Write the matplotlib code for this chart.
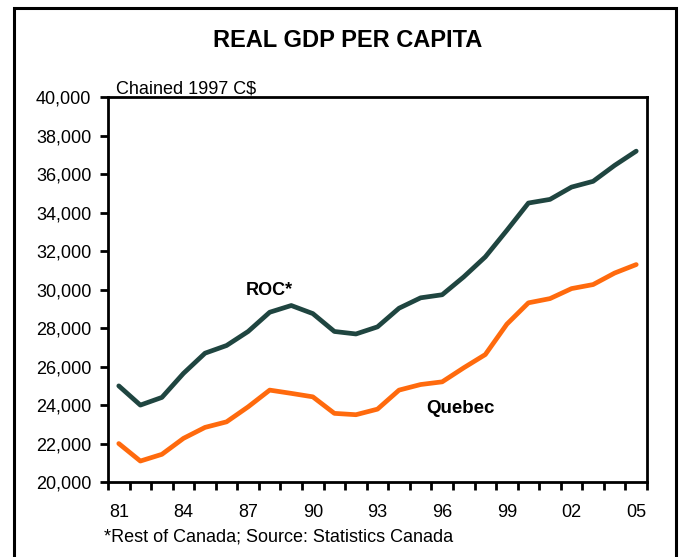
import matplotlib
matplotlib.use("Agg")
import matplotlib.pyplot as plt
from matplotlib.patches import Rectangle
from matplotlib.ticker import FuncFormatter, FixedLocator


plt.rcParams["font.family"] = ["Liberation Sans", "DejaVu Sans"]

years = ["81", "82", "83", "84", "85", "86", "87", "88", "89", "90",
         "91", "92", "93", "94", "95", "96", "97", "98", "99", "00",
         "01", "02", "03", "04", "05"]

roc = [25000, 24000, 24400, 25650, 26700, 27100, 27830, 28830, 29180, 28760,
       27830, 27700, 28070, 29040, 29580, 29740, 30670, 31710, 33090, 34510,
       34700, 35340, 35640, 36470, 37210]

quebec = [22000, 21090, 21440, 22270, 22840, 23130, 23910, 24780, 24610, 24430,
          23570, 23500, 23790, 24780, 25070, 25210, 25940, 26630, 28210, 29320,
          29540, 30060, 30270, 30870, 31310]

shown_years = ["81", "84", "87", "90", "93", "96", "99", "02", "05"]

y_ticks = list(range(20000, 40001, 2000))


fig = plt.figure(figsize=(6.8, 5.57), dpi=100)
ax = fig.add_axes([108 / 680, 75 / 557, 539 / 680, 384.5 / 557])

x = list(range(len(years)))

ax.plot(x, roc, color="#1f4540", linewidth=3.4, solid_joinstyle="round",
        solid_capstyle="round")
ax.plot(x, quebec, color="#ff6a0d", linewidth=3.4, solid_joinstyle="round",
        solid_capstyle="round")

ax.set_xlim(-0.5, len(years) - 0.5)
ax.set_ylim(20000, 40000)

# category axis: ticks between years, labels every third year
ax.xaxis.set_major_locator(FixedLocator([i - 0.5 for i in range(len(years) + 1)]))
ax.xaxis.set_major_formatter(FuncFormatter(lambda v, p: ""))
label_pos = [years.index(y) for y in shown_years]
ax.xaxis.set_minor_locator(FixedLocator(label_pos))
ax.xaxis.set_minor_formatter(FuncFormatter(lambda v, p: years[int(round(v))]))
ax.tick_params(axis="x", which="major", direction="out", length=6, width=2)
ax.tick_params(axis="x", which="minor", length=0, pad=16, labelsize=13)

ax.set_yticks(y_ticks)
ax.yaxis.set_major_formatter(FuncFormatter(lambda v, p: f"{int(v):,}"))
ax.tick_params(axis="y", direction="out", length=6, width=2, pad=6,
               labelsize=13)

for side in ["left", "right", "top", "bottom"]:
    ax.spines[side].set_linewidth(2)

ax.text(7.0, 29730, "ROC*", fontsize=13, fontweight="bold",
        ha="center", va="baseline")
ax.text(15.83, 23590, "Quebec", fontsize=13.5, fontweight="bold",
        ha="center", va="baseline")

fig.text(347.5 / 680, 1 - 40.5 / 557, "REAL GDP PER CAPITA",
         fontsize=17, fontweight="bold", ha="center", va="center")
fig.text(116 / 680, 1 - 93.5 / 557, "Chained 1997 C$",
         fontsize=13, ha="left", va="baseline")
fig.text(104 / 680, 1 - 542 / 557, "*Rest of Canada; Source: Statistics Canada",
         fontsize=13, ha="left", va="baseline")

frame = Rectangle((13.5 / 680, -0.05), (676 - 13.5) / 680, 1.05 - 7.5 / 557,
                  transform=fig.transFigure, fill=False, linewidth=2.2,
                  edgecolor="black", clip_on=False)
fig.add_artist(frame)

fig.savefig("out.png", dpi=100)
